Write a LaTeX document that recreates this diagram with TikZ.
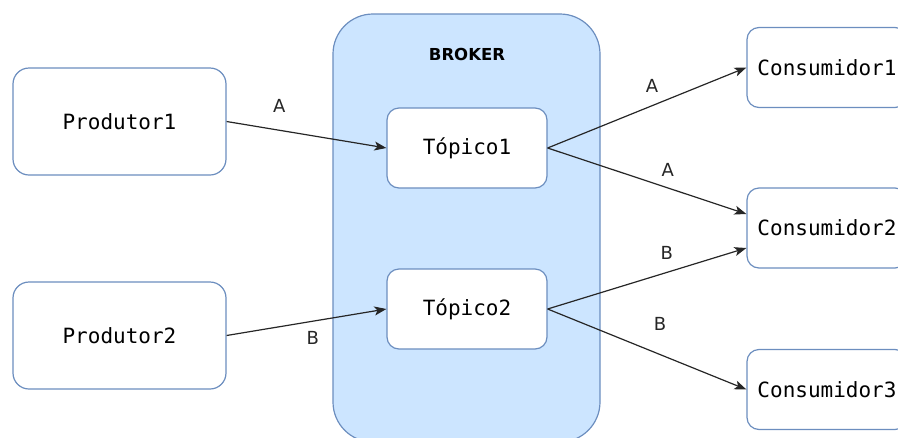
\documentclass[tikz,border=0pt]{standalone}
\usepackage{fontspec}
\setmainfont{DejaVu Sans}
\setmonofont{DejaVu Sans Mono}
\usepackage{tikz}
\usetikzlibrary{arrows.meta}

\definecolor{boxline}{HTML}{6C8EBF}
\definecolor{brokerfill}{HTML}{CCE5FF}

\tikzset{
  box/.style={draw=boxline, line width=1.2pt, fill=white, rounded corners=12pt,
    minimum width=160pt, minimum height=80pt, inner sep=0pt,
    font=\fontsize{21}{24}\selectfont\ttfamily},
  bigbox/.style={box, minimum width=213pt, minimum height=107pt, rounded corners=16pt},
  flow/.style={->, line width=1.2pt, black!85},
  lbl/.style={font=\fontsize{18}{20}\selectfont, inner sep=0pt}
}

\begin{document}
\begin{tikzpicture}[x=1pt, y=-1pt, >={Stealth[length=12pt, width=9pt, inset=3pt]}]
  \useasboundingbox (0,0) rectangle (898,437);
  % broker
  \node[draw=boxline, line width=1.2pt, fill=brokerfill, rounded corners=40pt,
        minimum width=267pt, minimum height=428pt] (broker) at (466.5,228) {};
  \node[font=\fontsize{16.5}{20}\selectfont\bfseries] (brokername) at (467,54) {BROKER};

  \node[bigbox] (p1) at (119.5,121.5) {Produtor1};
  \node[bigbox] (p2) at (119.5,335.5) {Produtor2};
  \node[box] (t1) at (467,148) {Tópico1};
  \node[box] (t2) at (467,309) {Tópico2};
  \node[box] (c1) at (827,67.5) {Consumidor1};
  \node[box] (c2) at (827,228) {Consumidor2};
  \node[box] (c3) at (827,389.5) {Consumidor3};

  \draw[flow] (p1.east) -- (t1.west) node[lbl, pos=0.33, yshift=24pt] {A};
  \draw[flow] (p2.east) -- (t2.west) node[lbl, pos=0.54, yshift=-17pt] {B};
  \draw[flow] (t1.east) -- (c1.west) node[lbl, pos=0.525, yshift=20pt] {A};
  \draw[flow] (t1.east) -- ([yshift=14pt]c2.west) node[lbl, pos=0.605, yshift=18pt] {A};
  \draw[flow] (t2.east) -- ([yshift=-20pt]c2.west) node[lbl, pos=0.6, yshift=19pt] {B};
  \draw[flow] (t2.east) -- (c3.west) node[lbl, pos=0.565, yshift=31pt] {B};
\end{tikzpicture}
\end{document}
